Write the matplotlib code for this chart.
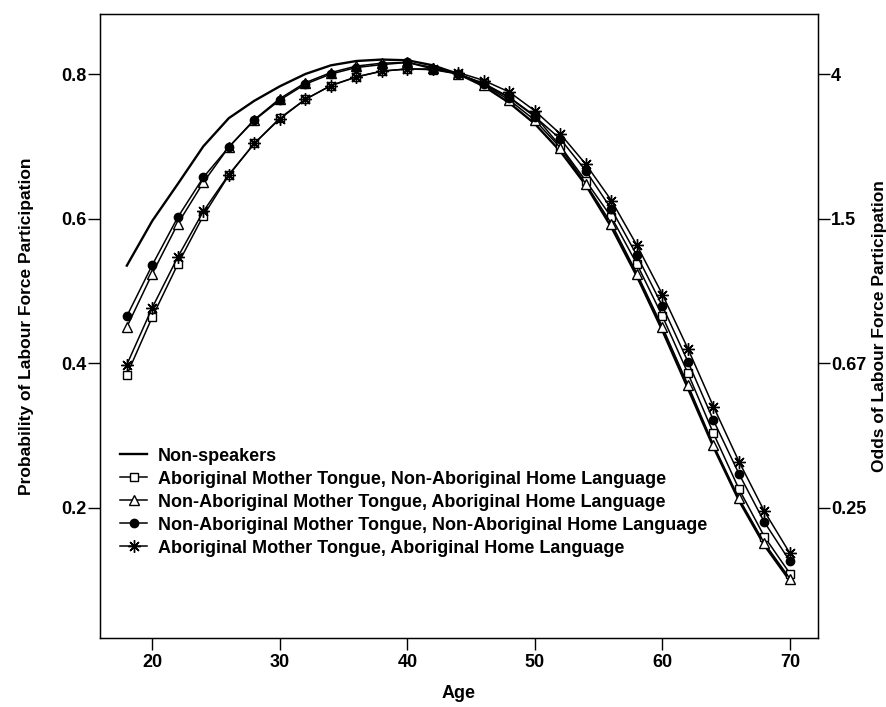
import numpy as np
import matplotlib
matplotlib.use('Agg')
import matplotlib.pyplot as plt

plt.rcParams['font.family'] = ['Liberation Sans', 'DejaVu Sans']

# age grid and predicted probabilities
vAge = np.arange(18, 71, 2)

vNonSpeakers = [0.535, 0.597, 0.648, 0.700, 0.739, 0.763, 0.783, 0.800, 0.812,
                0.818, 0.820, 0.819, 0.812, 0.800, 0.783, 0.760, 0.731, 0.693,
                0.646, 0.588, 0.520, 0.445, 0.365, 0.284, 0.210, 0.148, 0.099]
vAboMtNonHl = [0.384, 0.464, 0.537, 0.604, 0.660, 0.704, 0.739, 0.765, 0.784,
               0.796, 0.804, 0.807, 0.806, 0.800, 0.787, 0.768, 0.742, 0.700,
               0.652, 0.602, 0.537, 0.465, 0.386, 0.303, 0.226, 0.160, 0.109]
vNonMtAboHl = [0.450, 0.524, 0.593, 0.650, 0.699, 0.737, 0.766, 0.788, 0.802,
               0.811, 0.815, 0.816, 0.809, 0.800, 0.785, 0.764, 0.736, 0.698,
               0.648, 0.593, 0.524, 0.450, 0.370, 0.287, 0.213, 0.151, 0.102]
vNonMtNonHl = [0.465, 0.536, 0.602, 0.657, 0.699, 0.736, 0.764, 0.786, 0.800,
               0.809, 0.813, 0.816, 0.807, 0.800, 0.786, 0.767, 0.741, 0.710,
               0.666, 0.613, 0.549, 0.479, 0.402, 0.321, 0.247, 0.180, 0.126]
vAboMtAboHl = [0.398, 0.477, 0.547, 0.610, 0.661, 0.704, 0.738, 0.765, 0.784,
               0.796, 0.804, 0.807, 0.807, 0.802, 0.791, 0.775, 0.749, 0.717,
               0.675, 0.625, 0.563, 0.495, 0.420, 0.340, 0.264, 0.195, 0.137]

vLabels = ['Non-speakers',
           'Aboriginal Mother Tongue, Non-Aboriginal Home Language',
           'Non-Aboriginal Mother Tongue, Aboriginal Home Language',
           'Non-Aboriginal Mother Tongue, Non-Aboriginal Home Language',
           'Aboriginal Mother Tongue, Aboriginal Home Language']

vProbTicks = [0.2, 0.4, 0.6, 0.8]
vOddsLabels = ['0.25', '0.67', '1.5', '4']

fig = plt.figure(figsize=(8.86, 7.07), dpi=100)
ax = fig.add_axes([0.1129, 0.0976, 0.8104, 0.8826])

lw = 1.1
ax.plot(vAge, vNonSpeakers, color='black', lw=1.7, label=vLabels[0])
ax.plot(vAge, vAboMtNonHl, color='black', lw=lw, marker='s', ms=6,
        mfc='white', mec='black', mew=1.0, label=vLabels[1])
ax.plot(vAge, vNonMtAboHl, color='black', lw=lw, marker='^', ms=7,
        mfc='white', mec='black', mew=1.0, label=vLabels[2])
ax.plot(vAge, vNonMtNonHl, color='black', lw=lw, marker='o', ms=6,
        mfc='black', mec='black', label=vLabels[3])
ax.plot(vAge, vAboMtAboHl, color='black', lw=lw, marker=(8, 2, 0), ms=9,
        mec='black', mew=1.0, label=vLabels[4])

ax.set_xlim(15.9, 72.2)
ax.set_ylim(0.02, 0.883)
ax.set_xticks([20, 30, 40, 50, 60, 70])
ax.set_yticks(vProbTicks)
ax.set_yticklabels([str(t) for t in vProbTicks])

for s in ax.spines.values():
    s.set_linewidth(1.0)
ax.tick_params(direction='out', length=8.5, width=1.0, labelsize=13, pad=1)
ax.tick_params(axis='x', pad=3)
for t in ax.get_xticklabels() + ax.get_yticklabels():
    t.set_fontweight('bold')

ax.set_xlabel('Age', fontsize=13, fontweight='bold', labelpad=10)
ax.set_ylabel('Probability of Labour Force Participation', fontsize=12.5,
              fontweight='bold', labelpad=20)

ax2 = ax.twinx()
ax2.set_ylim(ax.get_ylim())
ax2.set_yticks(vProbTicks)
ax2.set_yticklabels(vOddsLabels)
ax2.tick_params(direction='out', length=8.5, width=1.0, labelsize=13, pad=1)
for t in ax2.get_yticklabels():
    t.set_fontweight('bold')
ax2.set_ylabel('Odds of Labour Force Participation', fontsize=12.5,
               fontweight='bold', labelpad=4)

leg = ax.legend(loc='upper left', bbox_to_anchor=(0.028, 0.305), frameon=False,
                fontsize=13, handlelength=1.5, handletextpad=0.6,
                labelspacing=0.33, borderpad=0, borderaxespad=0)
for t in leg.get_texts():
    t.set_fontweight('bold')

fig.savefig('out.png', dpi=100)
